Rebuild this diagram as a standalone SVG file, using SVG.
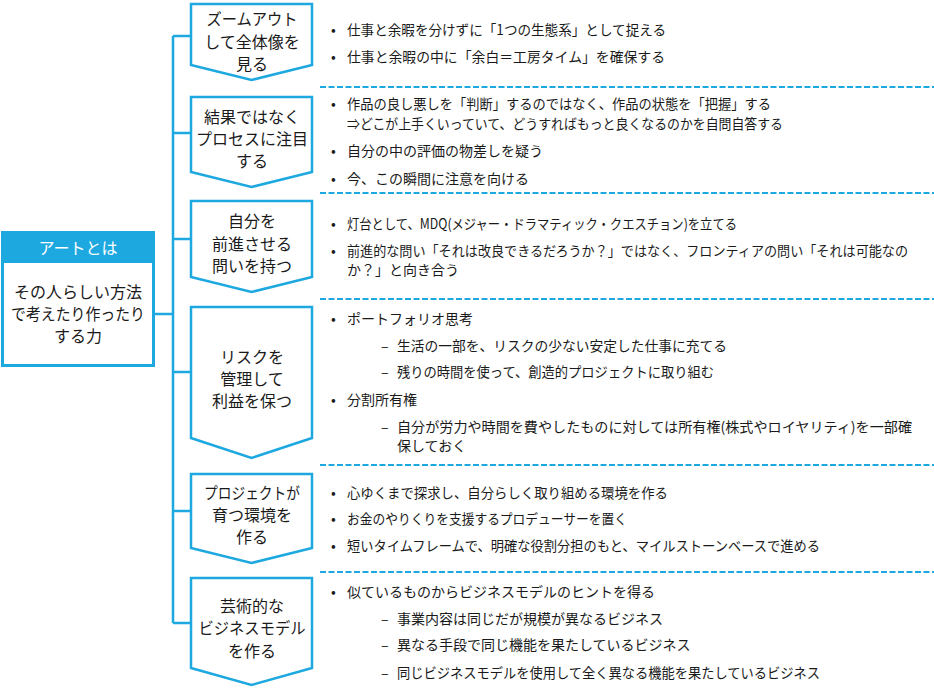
<svg xmlns="http://www.w3.org/2000/svg" width="934" height="693" viewBox="0 0 934 693">
<style>
.ln{stroke:#1EA8E0;stroke-width:2.5;fill:none}
.chev{stroke:#1EA8E0;stroke-width:2.5;fill:#fff;stroke-linejoin:miter}
.dash{stroke:#1EA8E0;stroke-width:2;stroke-dasharray:6 2.5;fill:none}
text{font-family:"Meiryo UI","Noto Sans CJK JP","Noto Sans",sans-serif;fill:#1a1a1a}
.c{font-size:16px;text-anchor:middle}
.t{font-size:14px}
.w{fill:#fff}
</style>
<rect width="934" height="693" fill="#fff"/>
<g id="connectors">
<line class="ln" x1="173" y1="36" x2="173" y2="623"/>
<line class="ln" x1="154" y1="314" x2="173" y2="314"/>
<line class="ln" x1="173" y1="36" x2="191" y2="36"/>
<line class="ln" x1="173" y1="133" x2="191" y2="133"/>
<line class="ln" x1="173" y1="239" x2="191" y2="239"/>
<line class="ln" x1="173" y1="372" x2="191" y2="372"/>
<line class="ln" x1="173" y1="511" x2="191" y2="511"/>
<line class="ln" x1="173" y1="623" x2="191" y2="623"/>
</g>
<g id="dividers">
<line class="dash" x1="320" y1="87" x2="934" y2="87"/>
<line class="dash" x1="320" y1="193" x2="934" y2="193"/>
<line class="dash" x1="320" y1="299" x2="934" y2="299"/>
<line class="dash" x1="320" y1="465" x2="934" y2="465"/>
<line class="dash" x1="320" y1="572" x2="934" y2="572"/>
</g>
<g id="art">
<rect x="2.5" y="232.5" width="151" height="133" fill="#fff" stroke="#1EA8E0" stroke-width="3"/>
<rect x="1" y="231" width="154" height="32" fill="#1EA8E0"/>
<text class="c w" x="78" y="254">アートとは</text>
<text class="c" x="78" y="298">その人らしい方法</text>
<text class="c" x="78" y="320" textLength="134" lengthAdjust="spacingAndGlyphs">で考えたり作ったり</text>
<text class="c" x="78" y="342">する力</text>
</g>
<g id="n1">
<polygon class="chev" points="191,4 312,4 312,65 251.5,80 191,65"/>
<text class="c" x="252" y="25" textLength="91" lengthAdjust="spacingAndGlyphs">ズームアウト</text>
<text class="c" x="252" y="47.5">して全体像を</text>
<text class="c" x="252" y="70">見る</text>
</g>
<g id="n2">
<polygon class="chev" points="191,97 312,97 312,172 251.5,187 191,172"/>
<text class="c" x="252" y="123">結果ではなく</text>
<text class="c" x="252" y="145">プロセスに注目</text>
<text class="c" x="252" y="167">する</text>
</g>
<g id="n3">
<polygon class="chev" points="191,201 312,201 312,277 251.5,292 191,277"/>
<text class="c" x="252" y="227">自分を</text>
<text class="c" x="252" y="250">前進させる</text>
<text class="c" x="252" y="272">問いを持つ</text>
</g>
<g id="n4">
<polygon class="chev" points="191,307 312,307 312,438 251.5,458 191,438"/>
<text class="c" x="252" y="363">リスクを</text>
<text class="c" x="252" y="385">管理して</text>
<text class="c" x="252" y="407">利益を保つ</text>
</g>
<g id="n5">
<polygon class="chev" points="191,474 312,474 312,548 251.5,563 191,548"/>
<text class="c" x="252" y="499" textLength="96" lengthAdjust="spacingAndGlyphs">プロジェクトが</text>
<text class="c" x="252" y="521">育つ環境を</text>
<text class="c" x="252" y="543">作る</text>
</g>
<g id="n6">
<polygon class="chev" points="191,578 312,578 312,668 251.5,685 191,668"/>
<text class="c" x="252" y="612">芸術的な</text>
<text class="c" x="252" y="634" textLength="107" lengthAdjust="spacingAndGlyphs">ビジネスモデル</text>
<text class="c" x="252" y="657">を作る</text>
</g>
<g id="t1" class="t">
<text x="331" y="35">•</text><text x="347" y="35" textLength="319" lengthAdjust="spacingAndGlyphs">仕事と余暇を分けずに「1つの生態系」として捉える</text>
<text x="331" y="62">•</text><text x="347" y="62" textLength="318" lengthAdjust="spacingAndGlyphs">仕事と余暇の中に「余白＝工房タイム」を確保する</text>
</g>
<g id="t2" class="t">
<text x="331" y="109">•</text><text x="347" y="109" textLength="424" lengthAdjust="spacingAndGlyphs">作品の良し悪しを「判断」するのではなく、作品の状態を「把握」する</text>
<text x="347" y="129" textLength="436" lengthAdjust="spacingAndGlyphs">⇒どこが上手くいっていて、どうすればもっと良くなるのかを自問自答する</text>
<text x="331" y="156">•</text><text x="347" y="156">自分の中の評価の物差しを疑う</text>
<text x="331" y="184">•</text><text x="347" y="184">今、この瞬間に注意を向ける</text>
</g>
<g id="t3" class="t">
<text x="331" y="229">•</text><text x="347" y="229" textLength="390" lengthAdjust="spacingAndGlyphs">灯台として、MDQ(メジャー・ドラマティック・クエスチョン)を立てる</text>
<text x="331" y="256">•</text><text x="347" y="256" font-size="13.3" textLength="561" lengthAdjust="spacingAndGlyphs">前進的な問い「それは改良できるだろうか？」ではなく、フロンティアの問い「それは可能なの</text>
<text x="347" y="275">か？」と向き合う</text>
</g>
<g id="t4" class="t">
<text x="331" y="324">•</text><text x="347" y="324">ポートフォリオ思考</text>
<text x="381" y="351">–</text><text x="397" y="351" textLength="330" lengthAdjust="spacingAndGlyphs">生活の一部を、リスクの少ない安定した仕事に充てる</text>
<text x="381" y="377">–</text><text x="397" y="377" textLength="317" lengthAdjust="spacingAndGlyphs">残りの時間を使って、創造的プロジェクトに取り組む</text>
<text x="331" y="405">•</text><text x="347" y="405">分割所有権</text>
<text x="381" y="432">–</text><text x="397" y="432" textLength="515" lengthAdjust="spacingAndGlyphs">自分が労力や時間を費やしたものに対しては所有権(株式やロイヤリティ)を一部確</text>
<text x="397" y="451">保しておく</text>
</g>
<g id="t5" class="t">
<text x="331" y="498">•</text><text x="347" y="498" textLength="321" lengthAdjust="spacingAndGlyphs">心ゆくまで探求し、自分らしく取り組める環境を作る</text>
<text x="331" y="524">•</text><text x="347" y="524" textLength="280" lengthAdjust="spacingAndGlyphs">お金のやりくりを支援するプロデューサーを置く</text>
<text x="331" y="551">•</text><text x="347" y="551" textLength="473" lengthAdjust="spacingAndGlyphs">短いタイムフレームで、明確な役割分担のもと、マイルストーンベースで進める</text>
</g>
<g id="t6" class="t">
<text x="331" y="597">•</text><text x="347" y="597">似ているものからビジネスモデルのヒントを得る</text>
<text x="381" y="624">–</text><text x="397" y="624">事業内容は同じだが規模が異なるビジネス</text>
<text x="381" y="650">–</text><text x="397" y="650">異なる手段で同じ機能を果たしているビジネス</text>
<text x="381" y="678">–</text><text x="397" y="678" textLength="423" lengthAdjust="spacingAndGlyphs">同じビジネスモデルを使用して全く異なる機能を果たしているビジネス</text>
</g>
</svg>
